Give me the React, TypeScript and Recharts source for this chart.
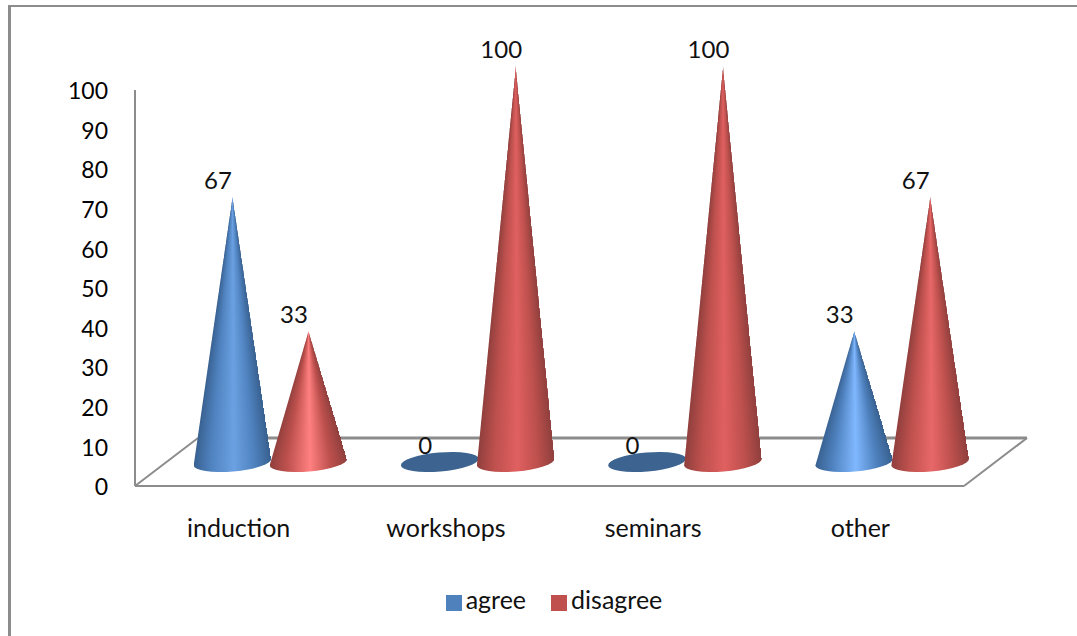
import { Bar, BarChart, LabelList, Legend, XAxis, YAxis, usePlotArea } from "recharts";

const categories = ["induction", "workshops", "seminars", "other"];
const agree = [67, 0, 0, 33];
const disagree = [33, 100, 100, 67];
const valueTicks = [0, 10, 20, 30, 40, 50, 60, 70, 80, 90, 100];

const rows = categories.map((name, i) => ({ name, agree: agree[i], disagree: disagree[i] }));

const FONT = "Lato, 'Open Sans', sans-serif";
const AXIS_GREY = "#8c8c8c";

// the floor is a parallelogram; cones stand halfway along its depth
const FLOOR_DX = 63;
const FLOOR_DY = -48;
const DEPTH_X = FLOOR_DX / 2;
const DEPTH_Y = FLOOR_DY / 2;

// shorter cones catch more light on their centre line
const shades: Record<string, { edge: string; mid: string; low: string; medium: string; high: string; flat: string }> = {
  agree: { edge: "#38608f", mid: "#4f82bf", low: "#80b8ff", medium: "#6ba1e2", high: "#6ba1e2", flat: "#3d6491" },
  disagree: { edge: "#8f3f3d", mid: "#bd504d", low: "#ff8080", medium: "#e86868", high: "#e06060", flat: "#964240" },
};

const tierOf = (value: number) => (value < 50 ? "low" : value < 80 ? "medium" : "high");

function ConeGradients() {
  return (
    <defs>
      {Object.entries(shades).flatMap(([series, s]) =>
        (["low", "medium", "high"] as const).map((tier) => (
          <linearGradient key={series + tier} id={`cone-${series}-${tier}`} x1="0" y1="0" x2="1" y2="0">
            <stop offset="0%" stopColor={s.edge} />
            <stop offset="22%" stopColor={s.mid} />
            <stop offset="52%" stopColor={s[tier]} />
            <stop offset="78%" stopColor={s.mid} />
            <stop offset="100%" stopColor={s.edge} />
          </linearGradient>
        )),
      )}
    </defs>
  );
}

function Floor() {
  const plot = usePlotArea();
  if (!plot) return null;
  const left = plot.x;
  const right = plot.x + plot.width;
  const front = plot.y + plot.height;
  const back = front + FLOOR_DY;
  return (
    <g fill="none" stroke={AXIS_GREY}>
      <path d={`M${left + FLOOR_DX} ${back}H${right + FLOOR_DX}`} strokeWidth={3} />
      <path d={`M${left} ${front}L${left + FLOOR_DX} ${back}M${right} ${front}L${right + FLOOR_DX} ${back}`} strokeWidth={2} />
    </g>
  );
}

const ROW_HEIGHT = 2;

function Cone({ x, y, width, height, value, series, index }: any) {
  const rx = 39;
  const ry = 9.5;
  const tilt = (5 * Math.PI) / 180;
  const cx = x + width / 2 + DEPTH_X;
  const baseY = y + height + DEPTH_Y;
  const tipY = y + DEPTH_Y;
  const s = shades[series];
  if (!value) {
    return <ellipse cx={cx} cy={baseY} rx={rx} ry={ry} fill={s.flat} transform={`rotate(-5 ${cx} ${baseY})`} />;
  }
  const ox = rx * Math.cos(tilt);
  const oy = rx * Math.sin(tilt);
  const outline = `M${cx} ${tipY}L${cx + ox} ${baseY - oy}A${rx} ${ry} -5 0 1 ${cx - ox} ${baseY + oy}Z`;
  const clipId = `cone-clip-${series}-${index}`;
  const fill = `url(#cone-${series}-${tierOf(value)})`;
  // stacked rows, each with the gradient stretched to its own width, so the shading tapers to the tip
  const strips = [];
  for (let top = Math.floor(tipY); top < baseY + ry + 1; top += ROW_HEIGHT) {
    const half = Math.max(0.5, ox * Math.min(1, (top + ROW_HEIGHT - tipY) / (baseY - tipY)));
    strips.push(
      <rect key={top} x={cx - half} y={top} width={half * 2} height={ROW_HEIGHT} fill={fill} shapeRendering="crispEdges" />,
    );
  }
  return (
    <g>
      <clipPath id={clipId}>
        <path d={outline} />
      </clipPath>
      <g clipPath={`url(#${clipId})`}>{strips}</g>
    </g>
  );
}

const labelStyle = { fontFamily: FONT, fontSize: 24, fill: "#111" };

export default function App() {
  return (
    <div
      style={{
        position: "absolute",
        left: 8,
        top: 5,
        width: 1069,
        height: 631,
        borderTop: `2px solid ${AXIS_GREY}`,
        borderLeft: `3px solid ${AXIS_GREY}`,
      }}
    >
      <div style={{ position: "absolute", left: -11, top: -7 }}>
        <BarChart
          width={1077}
          height={636}
          data={rows}
          margin={{ top: 90, right: 113, bottom: 90, left: 75 }}
          barSize={78}
          barGap={-2}
        >
          <ConeGradients />
          <Floor />
          <XAxis
            dataKey="name"
            height={60}
            tickLine={false}
            tickSize={0}
            tickMargin={33}
            axisLine={{ stroke: AXIS_GREY, strokeWidth: 2 }}
            tick={{ fontFamily: FONT, fontSize: 25, fill: "#111" }}
            interval={0}
          />
          <YAxis
            width={60}
            domain={[0, 100]}
            ticks={valueTicks}
            interval={0}
            tickLine={false}
            tickSize={0}
            tickMargin={27}
            axisLine={{ stroke: AXIS_GREY, strokeWidth: 2 }}
            tick={{ fontFamily: FONT, fontSize: 23, fill: "#000", dy: 1 }}
          />
          <Legend
            verticalAlign="middle"
            iconType="square"
            iconSize={16}
            wrapperStyle={{ top: 584, left: 0, width: 1133, fontFamily: FONT, fontSize: 25 }}
            formatter={(value) => <span style={{ color: "#111", marginRight: 15 }}>{value}</span>}
          />
          <Bar
            dataKey="agree"
            fill="#4f81bd"
            isAnimationActive={false}
            shape={(props: any) => <Cone {...props} series="agree" />}
          >
            <LabelList dataKey="agree" position="top" dx={17} dy={-27} style={labelStyle} />
          </Bar>
          <Bar
            dataKey="disagree"
            fill="#c0504d"
            isAnimationActive={false}
            shape={(props: any) => <Cone {...props} series="disagree" />}
          >
            <LabelList dataKey="disagree" position="top" dx={17} dy={-27} style={labelStyle} />
          </Bar>
        </BarChart>
      </div>
    </div>
  );
}
